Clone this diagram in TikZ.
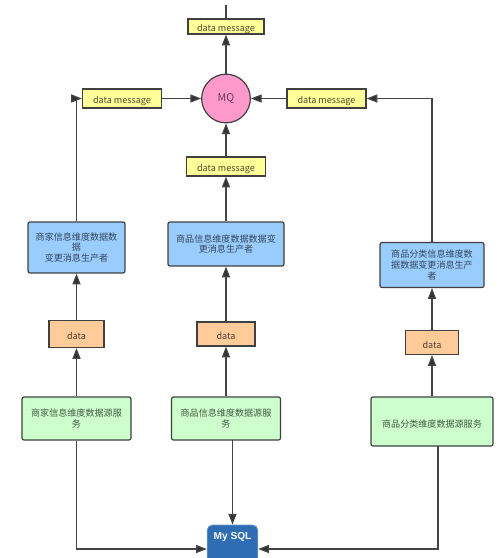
\documentclass[tikz,border=0pt]{standalone}
\usepackage{fontspec}
\setmainfont{Noto Sans CJK SC}
\newfontfamily\dbfont{Liberation Sans}
\usetikzlibrary{arrows.meta}
\definecolor{msgfill}{HTML}{FFFF99}
\definecolor{prodfill}{HTML}{99CCFF}
\definecolor{datafill}{HTML}{FFCC99}
\definecolor{srcfill}{HTML}{CCFFCC}
\definecolor{mqfill}{HTML}{FF99CC}
\definecolor{dbfill}{HTML}{2E6DB4}
\definecolor{linegray}{HTML}{444444}
\tikzset{
  boxsize/.style 2 args={minimum width=#1*0.75pt, minimum height=#2*0.75pt},
  basebox/.style={draw=black!75, line width=0.9pt, inner sep=0pt, align=center,
    font=\fontsize{6.8}{8}\selectfont, execute at begin node={\rule{0pt}{9pt}}},
  msgbox/.style={basebox, fill=msgfill, text=black!70!msgfill},
  prodbox/.style={basebox, fill=prodfill, rounded corners=1.5pt, text=black!65!prodfill},
  databox/.style={basebox, fill=datafill, text=black!70!datafill},
  srcbox/.style={basebox, fill=srcfill, rounded corners=1.5pt, text=black!65!srcfill},
  flow/.style={draw=linegray, line width=0.9pt, -{Triangle[length=8pt,width=6pt,fill=black!80]}},
}
\begin{document}
\begin{tikzpicture}[x=0.75pt,y=-0.75pt]
  \useasboundingbox (0,0) rectangle (499,558);

  % Queue
  \node[circle, draw=black!75, line width=0.9pt, fill=mqfill, minimum size=36.5pt, inner sep=0pt,
    text=black!60!mqfill, font=\fontsize{8}{9}\selectfont] (mq) at (226,98.5) {MQ};

  % Messages
  \node[msgbox, boxsize={76}{15}] (msgtop) at (226,26.5) {data message};
  \node[msgbox, boxsize={79}{19}] (msgleft) at (122,98.5) {data message};
  \node[msgbox, boxsize={79}{19}] (msgright) at (326.5,98.5) {data message};
  \node[msgbox, boxsize={79}{19}] (msgmid) at (226,166.5) {data message};
  \coordinate (topend) at (226,5);

  % Producers
  \node[prodbox, boxsize={97}{51}] (prodshop) at (76.5,247.5) {商家信息维度数据数\\据\\变更消息生产者};
  \node[prodbox, boxsize={116}{44}] (prodgoods) at (226,244) {商品信息维度数据数据变\\更消息生产者};
  \node[prodbox, boxsize={104}{45}] (prodcat) at (432,265) {商品分类信息维度数\\据数据变更消息生产\\者};

  % Data
  \node[databox, boxsize={55}{27}] (datashop) at (76.5,334) {data};
  \node[databox, boxsize={58}{24}] (datagoods) at (226,334) {data};
  \node[databox, boxsize={53}{24}] (datacat) at (432,342.5) {data};

  % Sources
  \node[srcbox, boxsize={109}{43}] (srcshop) at (76.5,418.5) {商家信息维度数据源服\\务};
  \node[srcbox, boxsize={109}{43}] (srcgoods) at (226,418.5) {商品信息维度数据源服\\务};
  \node[srcbox, boxsize={122}{49}] (srccat) at (432,421.5) {商品分类维度数据源服务};

  % Database
  \node[fill=dbfill, draw=dbfill!70!white, line width=0.6pt, rounded corners=4pt, inner sep=0pt,
    minimum width=38pt, text=white, text height=10.5pt, text depth=25.5pt,
    font=\dbfont\bfseries\fontsize{7.6}{9}\selectfont] (mysql) at (232.5,549) {My SQL};
  \coordinate (srcgoodsout) at (232.5,440);
  \coordinate (srccatout) at (438,446);

  % Left column
  \draw[flow] (srcshop) -- (datashop);
  \draw[flow] (datashop) -- (prodshop);
  \draw[flow] (prodshop.north) |- (msgleft.west);
  \draw[flow] (msgleft) -- (mq);

  % Middle column
  \draw[flow] (srcgoods) -- (datagoods);
  \draw[flow] (datagoods) -- (prodgoods);
  \draw[flow] (prodgoods) -- (msgmid);
  \draw[flow] (msgmid) -- (mq);

  % Right column
  \draw[flow] (srccat) -- (datacat);
  \draw[flow] (datacat) -- (prodcat);
  \draw[flow] (prodcat.north) |- (msgright.east);
  \draw[flow] (msgright) -- (mq);

  % Out of the queue
  \draw[flow] (mq) -- (msgtop);
  \draw[draw=linegray, line width=0.9pt] (msgtop.north) -- (topend);

  % Sources to database
  \draw[flow] (srcshop.south) |- (mysql.west);
  \draw[flow] (srcgoodsout) -- (mysql.north);
  \draw[flow] (srccatout) |- (mysql.east);
\end{tikzpicture}
\end{document}
